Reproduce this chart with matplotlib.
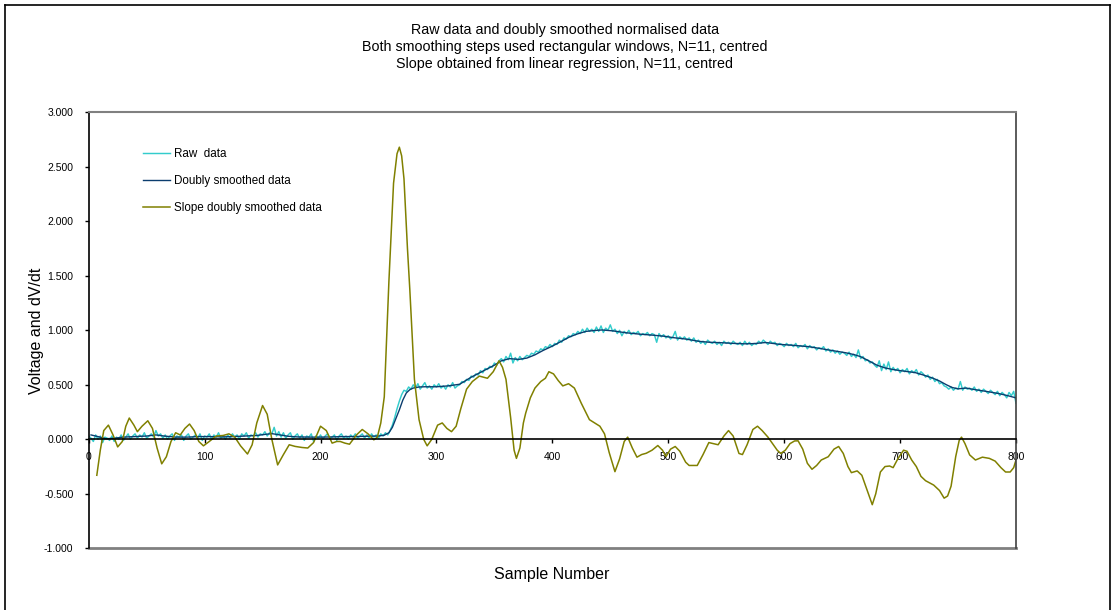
import matplotlib
matplotlib.use("Agg")
import matplotlib.pyplot as plt
from matplotlib.lines import Line2D

plt.rcParams['font.family'] = ['Liberation Sans', 'DejaVu Sans']

# raw data, every 2nd sample from 0 to 800
raw_x = list(range(0, 801, 2))
raw_y = [
    0.03, 0.01, -0.02, 0.04, 0.00, 0.03, -0.03, 0.02, 0.01, -0.01, 0.03, -0.02, 0.02, 0.00, 0.04, -0.01, 0.02, 0.05, 0.00, 0.03,
    0.05, 0.01, 0.04, 0.02, 0.06, 0.01, 0.03, 0.05, 0.02, 0.08, 0.03, 0.05, 0.01, 0.04, 0.00, 0.03, 0.05, -0.01, 0.03, 0.02,
    0.04, -0.01, 0.03, 0.05, 0.00, 0.02, 0.04, 0.01, 0.05, -0.01, 0.03, 0.02, 0.05, 0.00, 0.04, 0.02, 0.06, 0.01, 0.03, 0.00,
    0.04, 0.01, 0.05, 0.02, 0.04, 0.00, 0.05, 0.03, 0.06, 0.01, 0.04, 0.03, 0.06, 0.02, 0.05, 0.04, 0.07, 0.03, 0.06, 0.05,
    0.11, 0.03, 0.07, 0.02, 0.06, 0.01, 0.04, 0.06, 0.00, 0.03, 0.05, 0.01, 0.04, -0.01, 0.03, 0.02, 0.05, -0.02, 0.03, 0.01,
    0.04, 0.00, 0.03, 0.05, 0.01, 0.02, 0.04, -0.01, 0.03, 0.05, 0.01, 0.03, 0.00, 0.04, 0.02, 0.05, 0.01, 0.03, 0.05, 0.01,
    0.04, 0.01, 0.05, 0.02, 0.04, 0.01, 0.05, 0.03, 0.06, 0.04, 0.08, 0.13, 0.20, 0.28, 0.35, 0.41, 0.45, 0.44, 0.48, 0.46,
    0.50, 0.47, 0.51, 0.46, 0.49, 0.52, 0.47, 0.49, 0.46, 0.50, 0.48, 0.51, 0.47, 0.49, 0.46, 0.50, 0.48, 0.52, 0.47, 0.49,
    0.50, 0.53, 0.52, 0.55, 0.54, 0.58, 0.57, 0.60, 0.59, 0.63, 0.61, 0.65, 0.64, 0.67, 0.66, 0.70, 0.68, 0.72, 0.74, 0.71,
    0.76, 0.73, 0.79, 0.70, 0.75, 0.72, 0.76, 0.73, 0.75, 0.77, 0.76, 0.79, 0.78, 0.81, 0.80, 0.83, 0.82, 0.85, 0.84, 0.87,
    0.85, 0.88, 0.87, 0.91, 0.89, 0.93, 0.92, 0.95, 0.94, 0.97, 0.96, 0.99, 0.97, 1.01, 0.98, 1.02, 0.99, 1.01, 0.98, 1.03,
    0.99, 1.04, 0.98, 1.02, 1.00, 1.05, 0.99, 1.01, 0.97, 1.00, 0.95, 0.99, 0.97, 1.00, 0.96, 0.98, 0.97, 0.99, 0.95, 0.97,
    0.96, 0.98, 0.95, 0.97, 0.96, 0.89, 0.97, 0.94, 0.96, 0.93, 0.95, 0.92, 0.94, 0.99, 0.91, 0.94, 0.92, 0.94, 0.91, 0.93,
    0.90, 0.93, 0.89, 0.91, 0.88, 0.90, 0.87, 0.91, 0.89, 0.88, 0.90, 0.87, 0.89, 0.86, 0.90, 0.88, 0.89, 0.87, 0.90, 0.88,
    0.87, 0.89, 0.86, 0.90, 0.87, 0.89, 0.86, 0.88, 0.87, 0.90, 0.88, 0.91, 0.89, 0.87, 0.90, 0.88, 0.89, 0.86, 0.88, 0.87,
    0.85, 0.88, 0.86, 0.87, 0.85, 0.88, 0.84, 0.86, 0.85, 0.87, 0.83, 0.86, 0.84, 0.85, 0.82, 0.84, 0.83, 0.85, 0.81, 0.83,
    0.80, 0.82, 0.79, 0.81, 0.78, 0.80, 0.79, 0.77, 0.80, 0.76, 0.78, 0.75, 0.82, 0.74, 0.76, 0.72, 0.73, 0.70, 0.71, 0.68,
    0.66, 0.72, 0.63, 0.69, 0.64, 0.71, 0.62, 0.66, 0.63, 0.65, 0.61, 0.64, 0.62, 0.65, 0.60, 0.63, 0.61, 0.64, 0.59, 0.62,
    0.60, 0.57, 0.59, 0.55, 0.57, 0.53, 0.55, 0.51, 0.52, 0.49, 0.48, 0.46, 0.48, 0.45, 0.47, 0.46, 0.53, 0.45, 0.48, 0.46,
    0.47, 0.45, 0.48, 0.44, 0.46, 0.43, 0.46, 0.44, 0.42, 0.45, 0.43, 0.41, 0.44, 0.40, 0.43, 0.41, 0.38, 0.43, 0.40, 0.44,
    0.33,
]

smooth_x = [2, 8, 15, 22, 30, 40, 50, 58, 65, 75, 85, 95, 105, 115, 125, 135,
            145, 152, 158, 165, 172, 180, 190, 200, 210, 220, 230, 240, 250,
            255, 259, 262, 265, 268, 271, 274, 277, 280, 285, 290, 300, 310,
            320, 330, 340, 350, 356, 363, 371, 378, 385, 392, 400, 408, 415,
            422, 429, 436, 443, 452, 463, 475, 487, 497, 504, 515, 527, 536,
            546, 556, 566, 574, 584, 590, 596, 608, 621, 630, 637, 645, 653,
            660, 666, 673, 680, 687, 694, 700, 713, 720, 728, 734, 740, 745,
            750, 757, 765, 774, 785, 793, 800]
smooth_y = [0.040, 0.025, 0.005, 0.010, 0.020, 0.025, 0.030, 0.040, 0.030,
            0.020, 0.020, 0.025, 0.025, 0.022, 0.025, 0.030, 0.035, 0.045,
            0.052, 0.040, 0.028, 0.022, 0.020, 0.020, 0.022, 0.025, 0.025,
            0.028, 0.030, 0.038, 0.060, 0.110, 0.190, 0.270, 0.360, 0.425,
            0.455, 0.470, 0.480, 0.482, 0.482, 0.490, 0.505, 0.570, 0.625,
            0.680, 0.720, 0.740, 0.733, 0.745, 0.775, 0.815, 0.855, 0.900,
            0.940, 0.968, 0.990, 0.998, 1.003, 0.995, 0.978, 0.965, 0.955,
            0.945, 0.933, 0.920, 0.898, 0.890, 0.886, 0.880, 0.876, 0.878,
            0.888, 0.880, 0.871, 0.862, 0.850, 0.835, 0.822, 0.808, 0.794,
            0.778, 0.758, 0.720, 0.680, 0.655, 0.640, 0.630, 0.612, 0.590,
            0.562, 0.535, 0.500, 0.475, 0.463, 0.470, 0.455, 0.440, 0.420,
            0.400, 0.380]

slope_x = [7, 10, 13, 17, 21, 25, 29, 32, 35, 39, 42, 46, 51, 55, 59, 63, 67,
           71, 75, 79, 83, 87, 91, 95, 99, 104, 110, 116, 121, 126, 131, 137,
           141, 145, 150, 154, 158, 163, 168, 173, 178, 184, 189, 194, 200,
           205, 210, 214, 217, 221, 225, 231, 236, 241, 246, 249, 252, 255,
           259, 263, 266, 268, 270, 272, 275, 277, 281, 285, 289, 292, 296,
           301, 305, 309, 313, 317, 321, 326, 331, 337, 344, 349, 354, 357,
           360, 364, 367, 369, 372, 375, 377, 381, 385, 390, 394, 397, 401,
           405, 409, 414, 419, 425, 432, 438, 441, 445, 449, 454, 458, 462,
           465, 469, 473, 477, 481, 486, 491, 495, 498, 502, 506, 510, 515,
           518, 525, 530, 535, 539, 543, 548, 552, 556, 561, 564, 568, 573,
           577, 581, 586, 590, 594, 597, 601, 605, 609, 612, 616, 620, 624,
           628, 632, 638, 643, 647, 651, 655, 658, 663, 667, 671, 676, 679,
           683, 687, 691, 694, 698, 703, 706, 710, 714, 718, 722, 729, 734,
           738, 741, 744, 748, 751, 753, 756, 760, 765, 771, 777, 782, 787,
           791, 795, 798, 800]
slope_y = [-0.33, -0.10, 0.08, 0.13, 0.04, -0.07, -0.02, 0.12, 0.195, 0.13,
           0.07, 0.12, 0.17, 0.10, -0.08, -0.225, -0.16, -0.02, 0.06, 0.04,
           0.10, 0.14, 0.08, -0.02, -0.06, -0.02, 0.03, 0.035, 0.05, 0.02,
           -0.06, -0.135, -0.05, 0.15, 0.31, 0.23, 0.00, -0.235, -0.14, -0.05,
           -0.065, -0.075, -0.08, -0.03, 0.12, 0.08, -0.035, -0.02, -0.02,
           -0.035, -0.045, 0.04, 0.09, 0.05, -0.005, 0.02, 0.15, 0.39, 1.45,
           2.35, 2.62, 2.68, 2.60, 2.39, 1.75, 1.38, 0.55, 0.18, 0.00, -0.06,
           0.00, 0.13, 0.15, 0.10, 0.07, 0.12, 0.28, 0.46, 0.53, 0.58, 0.56,
           0.62, 0.72, 0.66, 0.55, 0.20, -0.10, -0.175, -0.08, 0.15, 0.24,
           0.38, 0.47, 0.53, 0.56, 0.62, 0.60, 0.54, 0.49, 0.51, 0.47, 0.33,
           0.18, 0.14, 0.12, 0.05, -0.12, -0.297, -0.18, -0.02, 0.02, -0.08,
           -0.164, -0.14, -0.128, -0.10, -0.057, -0.10, -0.158, -0.09, -0.066,
           -0.11, -0.21, -0.24, -0.24, -0.14, -0.03, -0.04, -0.05, 0.03, 0.08,
           0.03, -0.13, -0.14, -0.05, 0.09, 0.12, 0.08, 0.02, -0.04, -0.10,
           -0.13, -0.10, -0.04, -0.015, -0.014, -0.09, -0.22, -0.275, -0.24,
           -0.19, -0.16, -0.09, -0.066, -0.13, -0.25, -0.306, -0.29, -0.33,
           -0.45, -0.60, -0.50, -0.30, -0.25, -0.245, -0.26, -0.18, -0.10,
           -0.11, -0.19, -0.25, -0.34, -0.38, -0.42, -0.47, -0.54, -0.52,
           -0.43, -0.158, -0.01, 0.02, -0.04, -0.143, -0.19, -0.164, -0.175,
           -0.20, -0.26, -0.30, -0.30, -0.26, -0.19]

title_lines = [
    "Raw data and doubly smoothed normalised data",
    "Both smoothing steps used rectangular windows, N=11, centred",
    "Slope obtained from linear regression, N=11, centred",
]
y_ticks = [-1.0, -0.5, 0.0, 0.5, 1.0, 1.5, 2.0, 2.5, 3.0]
x_ticks = [0, 100, 200, 300, 400, 500, 600, 700, 800]

W, H = 1116, 610
fig = plt.figure(figsize=(W / 100, H / 100), dpi=100)
ax = fig.add_axes([88.7 / W, (H - 548.3) / H, (1016 - 88.7) / W, 436 / H])

ax.plot(raw_x, raw_y, color='#33CCCC', lw=1.05, label='Raw  data')
ax.plot(smooth_x, smooth_y, color='#0B3D6E', lw=1.0, label='Doubly smoothed data')
ax.plot(slope_x, slope_y, color='#808000', lw=1.1, label='Slope doubly smoothed data')

ax.set_xlim(0, 800)
ax.set_ylim(-1, 3)
ax.set_yticks(y_ticks)
ax.set_yticklabels([f"{v:.3f}" for v in y_ticks])
ax.set_xticks(x_ticks)
ax.set_xticklabels([str(v) for v in x_ticks])

# x axis crosses at zero like the spreadsheet chart
ax.spines['bottom'].set_position(('data', 0))
ax.spines['bottom'].set_color('black')
ax.spines['bottom'].set_linewidth(1.2)
ax.spines['left'].set_color('black')
ax.spines['left'].set_linewidth(1.2)
ax.spines['top'].set_color('#808080')
ax.spines['top'].set_linewidth(1.5)
ax.spines['right'].set_color('#404040')
ax.spines['right'].set_linewidth(1.2)
ax.axhline(-1, color='#808080', lw=2.0, clip_on=False)
ax.tick_params(axis='both', direction='out', length=3, width=1, labelsize=7.5,
               colors='black')
ax.tick_params(axis='y', pad=8)
ax.tick_params(axis='x', pad=6.5)

fig.text(552 / W, 1 - 574 / H, "Sample Number", fontsize=11.5,
         ha='center', va='center')
fig.text(36 / W, 1 - 331 / H, "Voltage and dV/dt", rotation=90, fontsize=11.5,
         ha='center', va='center')

fig.text(565 / W, 1 - 47 / H, "\n".join(title_lines), fontsize=10.3,
         ha='center', va='center', multialignment='center', linespacing=1.31)

ax.legend(loc='upper left', bbox_to_anchor=(143 / W, 1 - 148 / H),
          bbox_transform=fig.transFigure, frameon=False, fontsize=8.4,
          handlelength=2.3, handletextpad=0.35, labelspacing=1.3,
          borderpad=0, borderaxespad=0)

# chart area border
for xs, ys in [((5, 5), (5, 620)), ((5, 1110), (5, 5)), ((1110, 1110), (5, 620))]:
    fig.add_artist(Line2D([x / W for x in xs], [1 - y / H for y in ys],
                          color='black', lw=1.2))

fig.savefig("out.png", dpi=100)
